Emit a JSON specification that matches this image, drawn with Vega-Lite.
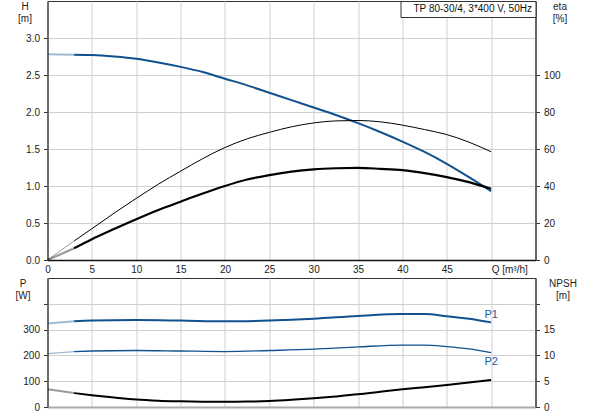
{
  "$schema": "https://vega.github.io/schema/vega-lite/v6.json",
  "description": "Pump curves: head and efficiency (top), power input and NPSH (bottom) against flow.",
  "background": "white",
  "padding": {"left": 14.5, "top": 0, "right": 5, "bottom": 0},
  "spacing": 18,
  "bounds": "flush",
  "datasets": {
    "curves": [
      {"curve": "H", "part": "extrapolated", "Q": 0, "value": 2.78},
      {"curve": "H", "part": "extrapolated", "Q": 3, "value": 2.775},
      {"curve": "H", "part": "measured", "Q": 3, "value": 2.775},
      {"curve": "H", "part": "measured", "Q": 5, "value": 2.77},
      {"curve": "H", "part": "measured", "Q": 7.5, "value": 2.75},
      {"curve": "H", "part": "measured", "Q": 10, "value": 2.72},
      {"curve": "H", "part": "measured", "Q": 12.5, "value": 2.67},
      {"curve": "H", "part": "measured", "Q": 15, "value": 2.61},
      {"curve": "H", "part": "measured", "Q": 17.5, "value": 2.54},
      {"curve": "H", "part": "measured", "Q": 20, "value": 2.45},
      {"curve": "H", "part": "measured", "Q": 22.5, "value": 2.36},
      {"curve": "H", "part": "measured", "Q": 25, "value": 2.26},
      {"curve": "H", "part": "measured", "Q": 27.5, "value": 2.16},
      {"curve": "H", "part": "measured", "Q": 30, "value": 2.06},
      {"curve": "H", "part": "measured", "Q": 32.5, "value": 1.96},
      {"curve": "H", "part": "measured", "Q": 35, "value": 1.85},
      {"curve": "H", "part": "measured", "Q": 37.5, "value": 1.73},
      {"curve": "H", "part": "measured", "Q": 40, "value": 1.6},
      {"curve": "H", "part": "measured", "Q": 42.5, "value": 1.46},
      {"curve": "H", "part": "measured", "Q": 45, "value": 1.3},
      {"curve": "H", "part": "measured", "Q": 47.5, "value": 1.12},
      {"curve": "H", "part": "measured", "Q": 50, "value": 0.93},

      {"curve": "eta1", "part": "extrapolated", "Q": 0, "value": 0},
      {"curve": "eta1", "part": "extrapolated", "Q": 3, "value": 10.3},
      {"curve": "eta1", "part": "measured", "Q": 3, "value": 10.3},
      {"curve": "eta1", "part": "measured", "Q": 5, "value": 16.9},
      {"curve": "eta1", "part": "measured", "Q": 7.5, "value": 25.3},
      {"curve": "eta1", "part": "measured", "Q": 10, "value": 33.3},
      {"curve": "eta1", "part": "measured", "Q": 12.5, "value": 41},
      {"curve": "eta1", "part": "measured", "Q": 15, "value": 48},
      {"curve": "eta1", "part": "measured", "Q": 17.5, "value": 54.8},
      {"curve": "eta1", "part": "measured", "Q": 20, "value": 60.8},
      {"curve": "eta1", "part": "measured", "Q": 22.5, "value": 65.5},
      {"curve": "eta1", "part": "measured", "Q": 25, "value": 69},
      {"curve": "eta1", "part": "measured", "Q": 27.5, "value": 72},
      {"curve": "eta1", "part": "measured", "Q": 30, "value": 74.1},
      {"curve": "eta1", "part": "measured", "Q": 32.5, "value": 75.2},
      {"curve": "eta1", "part": "measured", "Q": 35, "value": 75.4},
      {"curve": "eta1", "part": "measured", "Q": 37.5, "value": 74.7},
      {"curve": "eta1", "part": "measured", "Q": 40, "value": 72.9},
      {"curve": "eta1", "part": "measured", "Q": 42.5, "value": 70.5},
      {"curve": "eta1", "part": "measured", "Q": 45, "value": 67.8},
      {"curve": "eta1", "part": "measured", "Q": 47.5, "value": 63.7},
      {"curve": "eta1", "part": "measured", "Q": 50, "value": 58.5},

      {"curve": "eta2", "part": "extrapolated", "Q": 0, "value": 0},
      {"curve": "eta2", "part": "extrapolated", "Q": 3, "value": 6.3},
      {"curve": "eta2", "part": "measured", "Q": 3, "value": 6.3},
      {"curve": "eta2", "part": "measured", "Q": 5, "value": 11.2},
      {"curve": "eta2", "part": "measured", "Q": 7.5, "value": 16.7},
      {"curve": "eta2", "part": "measured", "Q": 10, "value": 22},
      {"curve": "eta2", "part": "measured", "Q": 12.5, "value": 27},
      {"curve": "eta2", "part": "measured", "Q": 15, "value": 31.5},
      {"curve": "eta2", "part": "measured", "Q": 17.5, "value": 35.9},
      {"curve": "eta2", "part": "measured", "Q": 20, "value": 40},
      {"curve": "eta2", "part": "measured", "Q": 22.5, "value": 43.5},
      {"curve": "eta2", "part": "measured", "Q": 25, "value": 45.9},
      {"curve": "eta2", "part": "measured", "Q": 27.5, "value": 47.8},
      {"curve": "eta2", "part": "measured", "Q": 30, "value": 49},
      {"curve": "eta2", "part": "measured", "Q": 32.5, "value": 49.6},
      {"curve": "eta2", "part": "measured", "Q": 35, "value": 49.8},
      {"curve": "eta2", "part": "measured", "Q": 37.5, "value": 49.3},
      {"curve": "eta2", "part": "measured", "Q": 40, "value": 48.6},
      {"curve": "eta2", "part": "measured", "Q": 42.5, "value": 47},
      {"curve": "eta2", "part": "measured", "Q": 45, "value": 44.8},
      {"curve": "eta2", "part": "measured", "Q": 47.5, "value": 42.1},
      {"curve": "eta2", "part": "measured", "Q": 50, "value": 38.5},

      {"curve": "P1", "part": "extrapolated", "Q": 0, "value": 324},
      {"curve": "P1", "part": "extrapolated", "Q": 3, "value": 332},
      {"curve": "P1", "part": "measured", "Q": 3, "value": 332},
      {"curve": "P1", "part": "measured", "Q": 5, "value": 335},
      {"curve": "P1", "part": "measured", "Q": 10, "value": 337},
      {"curve": "P1", "part": "measured", "Q": 15, "value": 335},
      {"curve": "P1", "part": "measured", "Q": 20, "value": 332},
      {"curve": "P1", "part": "measured", "Q": 25, "value": 335},
      {"curve": "P1", "part": "measured", "Q": 30, "value": 342},
      {"curve": "P1", "part": "measured", "Q": 35, "value": 353},
      {"curve": "P1", "part": "measured", "Q": 40, "value": 360},
      {"curve": "P1", "part": "measured", "Q": 42.5, "value": 360},
      {"curve": "P1", "part": "measured", "Q": 45, "value": 352},
      {"curve": "P1", "part": "measured", "Q": 47.5, "value": 342},
      {"curve": "P1", "part": "measured", "Q": 50, "value": 328},

      {"curve": "P2", "part": "extrapolated", "Q": 0, "value": 207},
      {"curve": "P2", "part": "extrapolated", "Q": 3, "value": 215},
      {"curve": "P2", "part": "measured", "Q": 3, "value": 215},
      {"curve": "P2", "part": "measured", "Q": 5, "value": 217},
      {"curve": "P2", "part": "measured", "Q": 10, "value": 219},
      {"curve": "P2", "part": "measured", "Q": 15, "value": 217},
      {"curve": "P2", "part": "measured", "Q": 20, "value": 215},
      {"curve": "P2", "part": "measured", "Q": 25, "value": 219},
      {"curve": "P2", "part": "measured", "Q": 30, "value": 224},
      {"curve": "P2", "part": "measured", "Q": 35, "value": 233},
      {"curve": "P2", "part": "measured", "Q": 40, "value": 240},
      {"curve": "P2", "part": "measured", "Q": 42.5, "value": 240},
      {"curve": "P2", "part": "measured", "Q": 45, "value": 234},
      {"curve": "P2", "part": "measured", "Q": 47.5, "value": 225},
      {"curve": "P2", "part": "measured", "Q": 50, "value": 211},

      {"curve": "NPSH", "part": "extrapolated", "Q": 0, "value": 3.45},
      {"curve": "NPSH", "part": "extrapolated", "Q": 3, "value": 2.7},
      {"curve": "NPSH", "part": "measured", "Q": 3, "value": 2.7},
      {"curve": "NPSH", "part": "measured", "Q": 5, "value": 2.3},
      {"curve": "NPSH", "part": "measured", "Q": 7.5, "value": 1.85},
      {"curve": "NPSH", "part": "measured", "Q": 10, "value": 1.45},
      {"curve": "NPSH", "part": "measured", "Q": 12.5, "value": 1.22},
      {"curve": "NPSH", "part": "measured", "Q": 15, "value": 1.1},
      {"curve": "NPSH", "part": "measured", "Q": 17.5, "value": 1.02},
      {"curve": "NPSH", "part": "measured", "Q": 20, "value": 1.0},
      {"curve": "NPSH", "part": "measured", "Q": 22.5, "value": 1.05},
      {"curve": "NPSH", "part": "measured", "Q": 25, "value": 1.17},
      {"curve": "NPSH", "part": "measured", "Q": 27.5, "value": 1.4},
      {"curve": "NPSH", "part": "measured", "Q": 30, "value": 1.69},
      {"curve": "NPSH", "part": "measured", "Q": 32.5, "value": 2.05},
      {"curve": "NPSH", "part": "measured", "Q": 35, "value": 2.45},
      {"curve": "NPSH", "part": "measured", "Q": 37.5, "value": 2.95},
      {"curve": "NPSH", "part": "measured", "Q": 40, "value": 3.44},
      {"curve": "NPSH", "part": "measured", "Q": 42.5, "value": 3.85},
      {"curve": "NPSH", "part": "measured", "Q": 45, "value": 4.28},
      {"curve": "NPSH", "part": "measured", "Q": 47.5, "value": 4.75},
      {"curve": "NPSH", "part": "measured", "Q": 50, "value": 5.25}
    ]
  },
  "vconcat": [
    {
      "width": 488,
      "height": 259,
      "layer": [
        {
          "data": {"name": "curves"},
          "transform": [{"filter": "datum.curve == 'H'"}],
          "mark": {"type": "line", "interpolate": "monotone"},
          "encoding": {
            "x": {
              "field": "Q", "type": "quantitative",
              "scale": {"domain": [0, 55], "nice": false},
              "axis": {
                "values": [0, 5, 10, 15, 20, 25, 30, 35, 40, 45, 50],
                "grid": true, "ticks": false, "labelPadding": 4, "title": null,
                "labelFlush": false, "labelOverlap": false,
                "domainColor": "#111", "domainWidth": 1.5,
                "labelExpr": "datum.value == 50 ? 'Q [m³/h]' : datum.label",
                "labelAlign": {"condition": {"test": "datum.value == 50", "value": "left"}, "value": "center"}
              }
            },
            "y": {
              "field": "value", "type": "quantitative",
              "scale": {"domain": [0, 3.5], "nice": false},
              "axis": {
                "values": [0, 0.5, 1, 1.5, 2, 2.5, 3], "format": ".1f",
                "grid": true, "tickSize": 4, "labelPadding": 4,
                "domainWidth": 1.5,
                "title": ["H", "[m]"], "titleAngle": 0, "titleAlign": "center",
                "titleBaseline": "top", "titleX": -23, "titleY": 0
              }
            },
            "color": {
              "field": "curve", "type": "nominal", "legend": null,
              "scale": {"type": "ordinal", "domain": ["H", "eta1", "eta2", "P1", "P2", "NPSH"], "range": ["#10518f", "#000000", "#000000", "#10518f", "#10518f", "#000000"]}
            },
            "strokeWidth": {
              "field": "curve", "type": "nominal", "legend": null,
              "scale": {"type": "ordinal", "domain": ["H", "eta1", "eta2", "P1", "P2", "NPSH"], "range": [2, 1, 2.2, 2, 1.3, 2]}
            },
            "opacity": {
              "field": "part", "type": "nominal", "legend": null,
              "scale": {"type": "ordinal", "domain": ["measured", "extrapolated"], "range": [1, 0.4]}
            }
          }
        },
        {
          "data": {"name": "curves"},
          "transform": [{"filter": "datum.curve == 'eta1' || datum.curve == 'eta2'"}],
          "mark": {"type": "line", "interpolate": "monotone"},
          "encoding": {
            "x": {"field": "Q", "type": "quantitative", "scale": {"domain": [0, 55], "nice": false}},
            "y": {
              "field": "value", "type": "quantitative",
              "scale": {"domain": [0, 140], "nice": false},
              "axis": {
                "orient": "right", "values": [0, 20, 40, 60, 80, 100],
                "grid": false, "tickSize": 4, "labelPadding": 4, "domainWidth": 1.5,
                "title": ["eta", "[%]"], "titleAngle": 0, "titleAlign": "center",
                "titleBaseline": "top", "titleX": 24, "titleY": 0
              }
            },
            "color": {
              "field": "curve", "type": "nominal", "legend": null,
              "scale": {"type": "ordinal", "domain": ["H", "eta1", "eta2", "P1", "P2", "NPSH"], "range": ["#10518f", "#000000", "#000000", "#10518f", "#10518f", "#000000"]}
            },
            "strokeWidth": {
              "field": "curve", "type": "nominal", "legend": null,
              "scale": {"type": "ordinal", "domain": ["H", "eta1", "eta2", "P1", "P2", "NPSH"], "range": [2, 1, 2.2, 2, 1.3, 2]}
            },
            "opacity": {
              "field": "part", "type": "nominal", "legend": null,
              "scale": {"type": "ordinal", "domain": ["measured", "extrapolated"], "range": [1, 0.4]}
            }
          }
        },
        {
          "data": {"values": [{"pump": "TP 80-30/4, 3*400 V, 50Hz"}]},
          "mark": {"type": "point", "opacity": 0},
          "encoding": {
            "shape": {
              "field": "pump", "type": "nominal",
              "legend": {
                "title": null, "orient": "top-right", "offset": 0,
                "strokeColor": "#333", "fillColor": "white", "padding": 3,
                "symbolSize": 0, "symbolOpacity": 0, "labelOffset": 0,
                "labelFontSize": 10, "labelColor": "#111", "labelLimit": 300
              }
            }
          }
        }
      ],
      "resolve": {"scale": {"y": "independent"}}
    },
    {
      "width": 488,
      "height": 129,
      "layer": [
        {
          "data": {"name": "curves"},
          "transform": [{"filter": "datum.curve == 'P1' || datum.curve == 'P2'"}],
          "mark": {"type": "line", "interpolate": "monotone"},
          "encoding": {
            "x": {
              "field": "Q", "type": "quantitative",
              "scale": {"domain": [0, 55], "nice": false},
              "axis": {
                "values": [0, 5, 10, 15, 20, 25, 30, 35, 40, 45, 50],
                "grid": true, "ticks": false, "labels": false, "title": null,
                "domainColor": "#aaaaaa", "domainWidth": 2
              }
            },
            "y": {
              "field": "value", "type": "quantitative",
              "scale": {"domain": [0, 500], "nice": false},
              "axis": {
                "values": [0, 100, 200, 300, 400],
                "labelExpr": "datum.value == 400 ? '' : datum.label",
                "grid": true, "tickSize": 4, "labelPadding": 4, "domainWidth": 1.5,
                "title": ["P", "[W]"], "titleAngle": 0, "titleAlign": "center",
                "titleBaseline": "top", "titleX": -25, "titleY": 0
              }
            },
            "color": {
              "field": "curve", "type": "nominal", "legend": null,
              "scale": {"type": "ordinal", "domain": ["H", "eta1", "eta2", "P1", "P2", "NPSH"], "range": ["#10518f", "#000000", "#000000", "#10518f", "#10518f", "#000000"]}
            },
            "strokeWidth": {
              "field": "curve", "type": "nominal", "legend": null,
              "scale": {"type": "ordinal", "domain": ["H", "eta1", "eta2", "P1", "P2", "NPSH"], "range": [2, 1, 2.2, 2, 1.3, 2]}
            },
            "opacity": {
              "field": "part", "type": "nominal", "legend": null,
              "scale": {"type": "ordinal", "domain": ["measured", "extrapolated"], "range": [1, 0.4]}
            }
          }
        },
        {
          "data": {"name": "curves"},
          "transform": [{"filter": "datum.curve == 'NPSH'"}],
          "mark": {"type": "line", "interpolate": "monotone"},
          "encoding": {
            "x": {"field": "Q", "type": "quantitative", "scale": {"domain": [0, 55], "nice": false}},
            "y": {
              "field": "value", "type": "quantitative",
              "scale": {"domain": [0, 25], "nice": false},
              "axis": {
                "orient": "right", "values": [0, 5, 10, 15, 20],
                "labelExpr": "datum.value == 20 ? '' : datum.label",
                "grid": false, "tickSize": 4, "labelPadding": 4, "domainWidth": 1.5,
                "title": ["NPSH", "[m]"], "titleAngle": 0, "titleAlign": "center",
                "titleBaseline": "top", "titleX": 27, "titleY": 0
              }
            },
            "color": {
              "field": "curve", "type": "nominal", "legend": null,
              "scale": {"type": "ordinal", "domain": ["H", "eta1", "eta2", "P1", "P2", "NPSH"], "range": ["#10518f", "#000000", "#000000", "#10518f", "#10518f", "#000000"]}
            },
            "strokeWidth": {
              "field": "curve", "type": "nominal", "legend": null,
              "scale": {"type": "ordinal", "domain": ["H", "eta1", "eta2", "P1", "P2", "NPSH"], "range": [2, 1, 2.2, 2, 1.3, 2]}
            },
            "opacity": {
              "field": "part", "type": "nominal", "legend": null,
              "scale": {"type": "ordinal", "domain": ["measured", "extrapolated"], "range": [1, 0.4]}
            }
          }
        },
        {
          "data": {"name": "curves"},
          "transform": [{"filter": "datum.curve == 'P1' && datum.part == 'measured' && datum.Q == 50"}],
          "mark": {"type": "text", "dy": -7, "fontSize": 11, "color": "#1a5a96"},
          "encoding": {
            "x": {"field": "Q", "type": "quantitative", "scale": {"domain": [0, 55], "nice": false}},
            "y": {"field": "value", "type": "quantitative", "scale": {"domain": [0, 500], "nice": false}, "axis": null},
            "text": {"field": "curve"}
          }
        },
        {
          "data": {"name": "curves"},
          "transform": [{"filter": "datum.curve == 'P2' && datum.part == 'measured' && datum.Q == 50"}],
          "mark": {"type": "text", "dy": 9, "fontSize": 11, "color": "#1a5a96"},
          "encoding": {
            "x": {"field": "Q", "type": "quantitative", "scale": {"domain": [0, 55], "nice": false}},
            "y": {"field": "value", "type": "quantitative", "scale": {"domain": [0, 500], "nice": false}, "axis": null},
            "text": {"field": "curve"}
          }
        }
      ],
      "resolve": {"scale": {"y": "independent"}}
    }
  ],
  "config": {
    "font": "Liberation Sans",
    "view": {"stroke": "#333", "strokeWidth": 1},
    "axis": {
      "labelFont": "Liberation Sans", "labelFontSize": 10, "labelColor": "#222",
      "titleFont": "Liberation Sans", "titleFontSize": 10, "titleFontWeight": "normal",
      "titleColor": "#222", "titleLineHeight": 12,
      "gridColor": "#cfcfcf", "gridWidth": 1,
      "tickColor": "#333", "domainColor": "#555"
    },
    "legend": {"labelFont": "Liberation Sans"},
    "text": {"font": "Liberation Sans"}
  }
}
